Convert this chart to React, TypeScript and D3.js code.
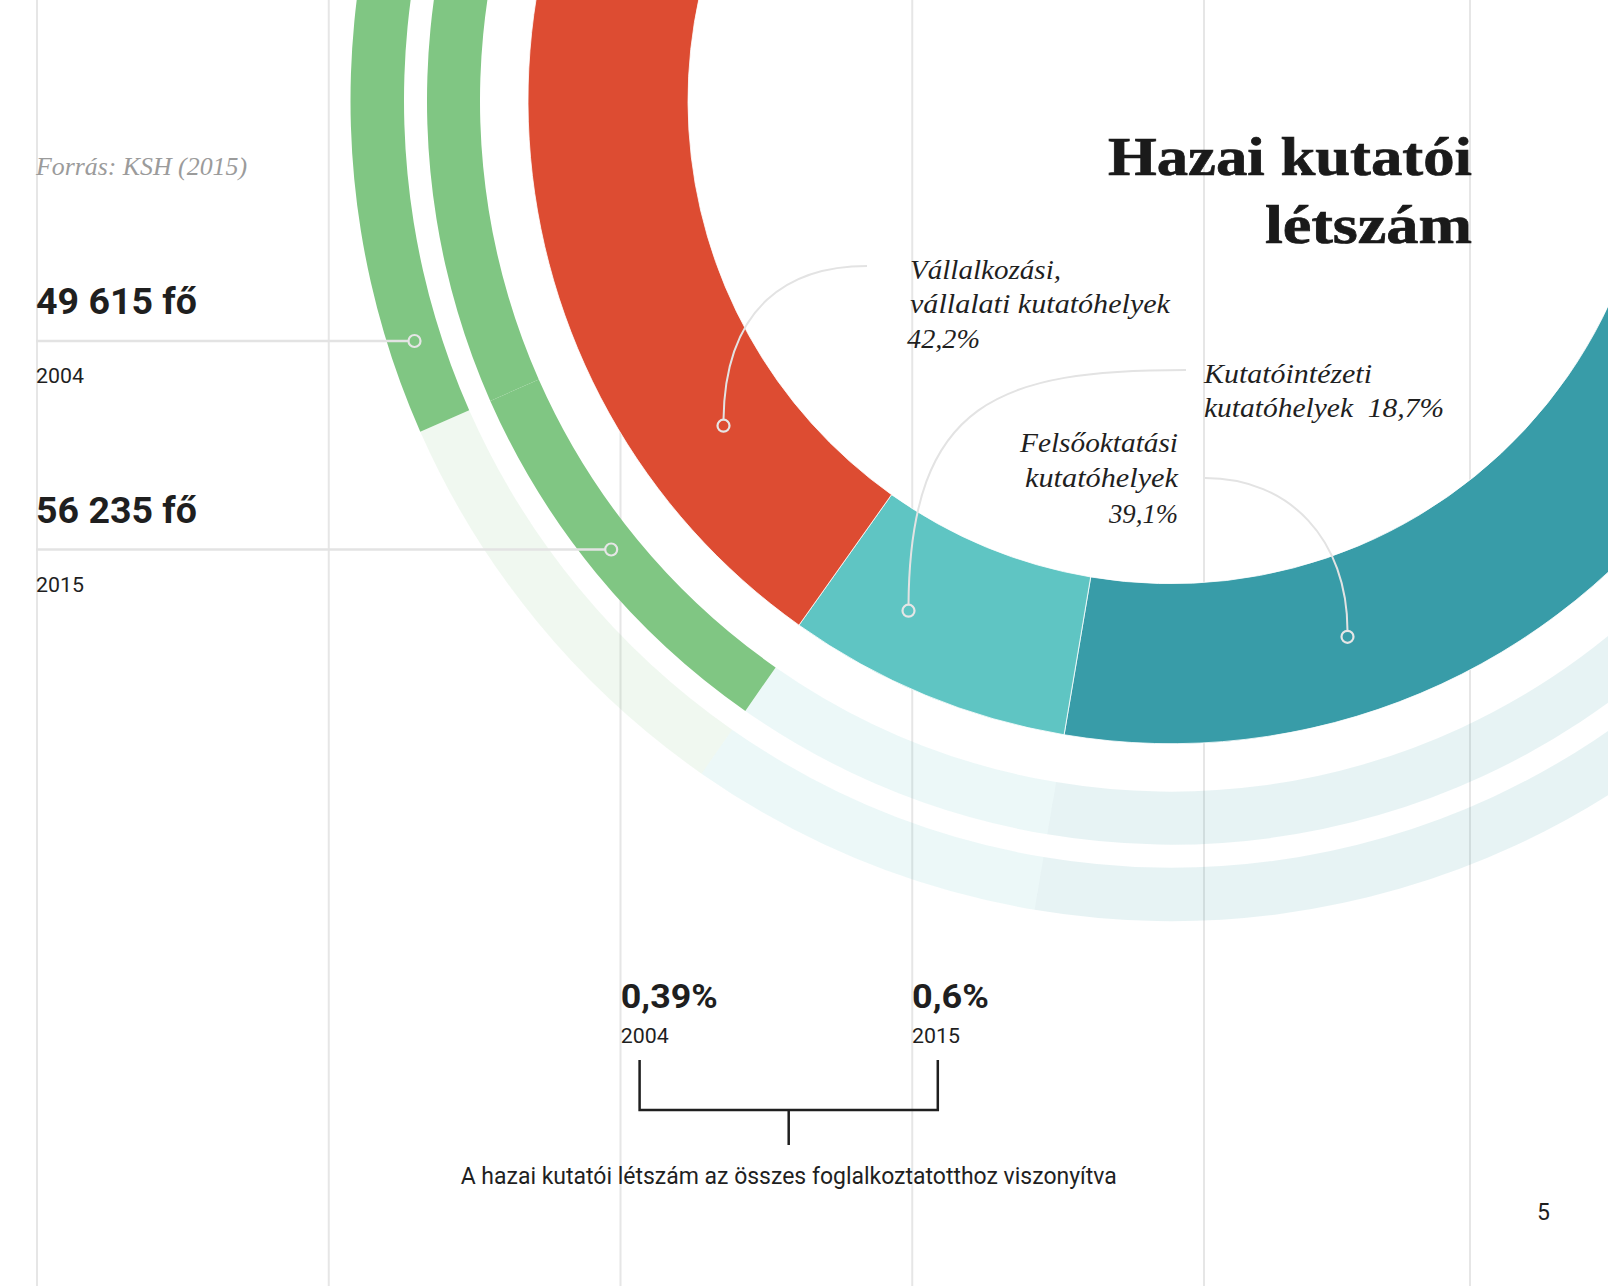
import React from "react";
import * as d3 from "d3";

// ---------- DATA ----------
const years = ["2004", "2015"];
const researchers = [49615, 56235];
const sectorKeys = ["Felsőoktatási", "Kutatóintézeti", "Vállalkozási"];
const sectorShares = [39.1, 18.7, 42.2];
const sectorLabelLines = [
  ["Felsőoktatási", "kutatóhelyek"],
  ["Kutatóintézeti", "kutatóhelyek"],
  ["Vállalkozási,", "vállalati kutatóhelyek"],
];
const employedShare = [0.39, 0.6];
const sourceText = "Forrás: KSH (2015)";
const titleLines = ["Hazai kutatói", "létszám"];
const captionText = "A hazai kutatói létszám az összes foglalkoztatotthoz viszonyítva";
const pageNumber = "5";

// ---------- STYLE / LAYOUT ----------
const W = 1608;
const H = 1286;
const CX = 1171;
const CY = 100.7;
const rad = (d: number) => (d * Math.PI) / 180;
const DONUT_R: [number, number] = [483, 643];
const RING_R: [number, number][] = [
  [767, 820.5], // 2004
  [691, 744], // 2015
];
const sectorColors = ["#389ca8", "#5fc5c3", "#dd4c32"];
const GREEN = "#80c683";
const FAINT = 0.12;
const GRID = "#e6e6e6";
const INK = "#1f1f1f";
const SANS = "Roboto, 'Noto Sans', sans-serif";
const SERIF = "'Liberation Serif', 'DejaVu Serif', serif";

const huLocale = d3.formatLocale({
  decimal: ",",
  thousands: " ",
  grouping: [3],
  currency: ["", " Ft"],
});
const fmtInt = huLocale.format(",d");
const fmtPct1 = huLocale.format(".1f");
const fmtShort = huLocale.format("~g");

// donut angle scale (polylinear, as laid out in the original design)
const donutAngle = d3
  .scaleLinear()
  .domain([0, ...d3.cumsum(sectorShares)])
  .range([60, 189.57, 215.35, 420].map(rad));

// ring angle scale: number of researchers -> angle (counter-clockwise growth)
const ringAngle = d3
  .scaleLinear()
  .domain([0, researchers[1]])
  .range([480.8, 214.9].map(rad));

const arcGen = d3.arc<any>();
const arcPath = (r: [number, number], a0: number, a1: number) =>
  arcGen({
    innerRadius: r[0],
    outerRadius: r[1],
    startAngle: Math.min(a0, a1),
    endAngle: Math.max(a0, a1),
  }) as string;

// grid columns
const gridX = [...d3.range(5).map((i) => 37 + i * 291.75), 1470];

// sector label layout
const sectorLabelLayout = [
  { x: [1178, 1178, 1178], anchor: "end", ys: [452, 487.3, 523.3], widths: [158, 153, 69], inlinePct: false,
    path: "M1205,478 C1290,478 1347.5,540 1347.5,630.8", dot: [1347.5, 636.8] },
  { x: [1204, 1204], anchor: "start", ys: [382.7, 417.3], widths: [168, 240], inlinePct: true,
    path: "M1186,370 C1000,370 910,400 908.5,604.7", dot: [908.5, 610.7] },
  { x: [910, 910, 907], anchor: "start", ys: [279.3, 312.7, 348.3], widths: [151, 260, 73], inlinePct: false,
    path: "M867,266 C790,266 725,305 723.5,419.7", dot: [723.5, 425.7] },
];

// left value rows
const rowLineY = [341, 549.5];
const valueWidths = [161, 161];

// bottom section
const bottomX = [620.8, 912];
const bottomValueWidths = [97, 77];
const bracketX = [639.6, 937.8];

export default function App() {
  const toSvgX = (r: number, y: number) => CX - Math.sqrt(r * r - (y - CY) * (y - CY));
  const stemX = (bracketX[0] + bracketX[1]) / 2;
  const ringStart = ringAngle(0) - 2 * Math.PI;

  return (
    <svg
      width={W}
      height={H}
      viewBox={`0 0 ${W} ${H}`}
      style={{ position: "fixed", left: 0, top: 0, display: "block", background: "#fff" }}
    >
      <rect x={0} y={0} width={W} height={H} fill="#fff" />
      {/* grid */}
      {gridX.map((x, i) => (
        <line key={i} x1={x} x2={x} y1={0} y2={H} stroke={GRID} strokeWidth={2} />
      ))}

      <g transform={`translate(${CX},${CY})`}>
        {/* faint ring backgrounds */}
        {RING_R.map((r, i) => (
          <g key={"faint" + i}>
            {i === 0 && (
              <path
                d={arcPath(r, ringAngle(researchers[1]), ringAngle(researchers[0]))}
                fill={GREEN}
                fillOpacity={FAINT}
              />
            )}
            <path
              d={arcPath(r, donutAngle(sectorShares[0]), ringAngle(researchers[1]))}
              fill={sectorColors[1]}
              fillOpacity={FAINT}
            />
            <path
              d={arcPath(r, ringStart, donutAngle(sectorShares[0]))}
              fill={sectorColors[0]}
              fillOpacity={FAINT}
            />
          </g>
        ))}
        {/* green rings */}
        <path d={arcPath(RING_R[0], ringAngle(researchers[0]), ringAngle(0))} fill={GREEN} />
        <path d={arcPath(RING_R[1], ringAngle(researchers[0]), ringAngle(0))} fill={GREEN} />
        <path
          d={arcPath(RING_R[1], ringAngle(researchers[1]), ringAngle(researchers[0]))}
          fill={GREEN}
        />
        {/* main donut */}
        {sectorShares.map((s, i) => {
          const cum = d3.sum(sectorShares.slice(0, i));
          return (
            <path
              key={sectorKeys[i]}
              d={arcPath(DONUT_R, donutAngle(cum), donutAngle(cum + s))}
              fill={sectorColors[i]}
              stroke="#fff"
              strokeWidth={0.8}
            />
          );
        })}
      </g>

      {/* leader lines */}
      {sectorLabelLayout.map((l, i) => (
        <g key={"lead" + i}>
          <path d={l.path} fill="none" stroke="#e3e3e3" strokeWidth={2} />
          <circle cx={l.dot[0]} cy={l.dot[1]} r={6} fill="none" stroke="#e6e6e6" strokeWidth={2.2} />
        </g>
      ))}

      {/* sector labels */}
      {sectorLabelLayout.map((l, i) => {
        const pct = fmtPct1(sectorShares[i]) + "%";
        const lines = l.inlinePct
          ? [sectorLabelLines[i][0], sectorLabelLines[i][1] + "\u00a0\u00a0" + pct]
          : [...sectorLabelLines[i], pct];
        return lines.map((t, j) => (
          <text
            key={"sl" + i + j}
            x={l.x[j]}
            y={l.ys[j]}
            textAnchor={l.anchor as any}
            fontFamily={SERIF}
            fontStyle="italic"
            fontSize={28}
            fill={INK}
            textLength={l.widths[j]}
            lengthAdjust="spacingAndGlyphs"
          >
            {t}
          </text>
        ));
      })}

      {/* title */}
      {titleLines.map((t, i) => (
        <text
          key={"t" + i}
          x={1472}
          y={[175, 243.3][i]}
          textAnchor="end"
          fontFamily={SERIF}
          fontWeight={700}
          fontSize={54}
          fill="#1a1a1a"
          stroke="#1a1a1a"
          strokeWidth={0.7}
          textLength={[364, 207][i]}
          lengthAdjust="spacingAndGlyphs"
        >
          {t}
        </text>
      ))}

      {/* source */}
      <text
        x={36}
        y={175}
        fontFamily={SERIF}
        fontStyle="italic"
        fontSize={25}
        fill="#9b9b9b"
        textLength={211}
        lengthAdjust="spacingAndGlyphs"
      >
        {sourceText}
      </text>

      {/* left values with lines to rings */}
      {years.map((yr, i) => {
        const y = rowLineY[i];
        const rMid = (RING_R[i][0] + RING_R[i][1]) / 2;
        const dx = toSvgX(rMid, y);
        return (
          <g key={"row" + i}>
            <line x1={36} x2={dx - 6} y1={y} y2={y} stroke="#e3e3e3" strokeWidth={2.5} />
            <circle cx={dx} cy={y} r={6} fill="none" stroke="#e6e6e6" strokeWidth={2.2} />
            <text
              x={36}
              y={y - 27}
              fontFamily={SANS}
              fontWeight={700}
              fontSize={37}
              fill={INK}
              textLength={valueWidths[i]}
              lengthAdjust="spacingAndGlyphs"
            >
              {fmtInt(researchers[i]) + " fő"}
            </text>
            <text
              x={36}
              y={y + 42}
              fontFamily={SANS}
              fontSize={20}
              fill={INK}
              textLength={48}
              lengthAdjust="spacingAndGlyphs"
            >
              {yr}
            </text>
          </g>
        );
      })}

      {/* bottom comparison */}
      {years.map((yr, i) => (
        <g key={"b" + i}>
          <text
            x={bottomX[i]}
            y={1008.3}
            fontFamily={SANS}
            fontWeight={700}
            fontSize={33}
            fill={INK}
            textLength={bottomValueWidths[i]}
            lengthAdjust="spacingAndGlyphs"
          >
            {fmtShort(employedShare[i]) + "%"}
          </text>
          <text
            x={bottomX[i]}
            y={1043.3}
            fontFamily={SANS}
            fontSize={20}
            fill={INK}
            textLength={48}
            lengthAdjust="spacingAndGlyphs"
          >
            {yr}
          </text>
        </g>
      ))}
      <path
        d={`M${bracketX[0]},1060 V1110 H${bracketX[1]} V1060 M${stemX},1110 V1145`}
        fill="none"
        stroke={INK}
        strokeWidth={2.5}
      />
      <text
        x={stemX}
        y={1184}
        textAnchor="middle"
        fontFamily={SANS}
        fontSize={24}
        fill={INK}
        textLength={656}
        lengthAdjust="spacingAndGlyphs"
      >
        {captionText}
      </text>

      <text x={1537} y={1220} fontFamily={SANS} fontSize={23} fill={INK}>
        {pageNumber}
      </text>
    </svg>
  );
}
